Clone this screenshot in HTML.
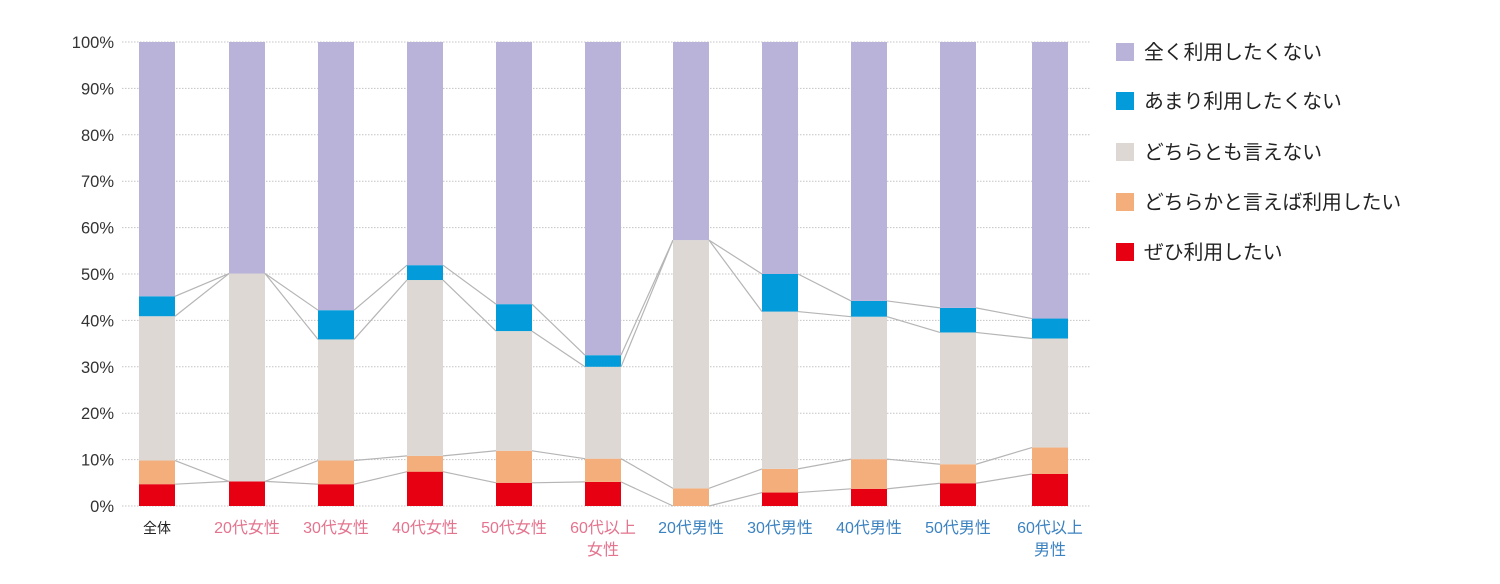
<!DOCTYPE html>
<html><head><meta charset="utf-8"><style>
html,body{margin:0;padding:0;background:#fff;width:1500px;height:584px;overflow:hidden}
text{font-family:"Liberation Sans","Noto Sans CJK JP",sans-serif}
</style></head><body>
<svg id="s" width="1500" height="584" xmlns="http://www.w3.org/2000/svg"></svg>
<script>
var s=document.getElementById('s'),h='';
var y0=506,sc=4.64;function Y(p){return y0-p*sc;}
for(var i=0;i<=10;i++){var y=Y(i*10);
h+='<line x1="122" x2="1090" y1="'+y+'" y2="'+y+'" stroke="#c4c4c4" stroke-width="1" stroke-dasharray="1.5,1.5"/>';
h+='<text x="114" y="'+(y+6)+'" text-anchor="end" font-size="16.5" fill="#333">'+(i*10)+'%</text>';}
var cx=[157,247,336,425,514,603,691,780,869,958,1050];
var d=[[4.7,9.8,40.9,45.2],[5.3,5.3,50.1,50.1],[4.7,9.8,35.9,42.2],[7.4,10.8,48.7,51.9],[5.0,11.9,37.7,43.5],[5.2,10.2,30.0,32.5],[0,3.8,57.3,57.3],[2.9,8.0,41.9,50.0],[3.7,10.1,40.8,44.2],[4.9,9.0,37.4,42.7],[6.9,12.6,36.1,40.4]];
var col=['#e60012','#f4ae7b','#ddd8d3','#039bd9','#b9b3da'];
var w=36;
for(var b=0;b<11;b++){var prev=0,x=cx[b]-w/2;
 var tops=d[b].concat([100]);
 for(var k=0;k<5;k++){var t=tops[k];if(t>prev){h+='<rect x="'+x+'" y="'+Y(t)+'" width="'+w+'" height="'+(Y(prev)-Y(t))+'" fill="'+col[k]+'"/>';}prev=Math.max(prev,t);}
 if(b<10){for(var k=0;k<4;k++){h+='<line x1="'+(cx[b]+w/2)+'" y1="'+Y(d[b][k])+'" x2="'+(cx[b+1]-w/2)+'" y2="'+Y(d[b+1][k])+'" stroke="#b5b5b5" stroke-width="1.2"/>';}}
}
var labs=[['全体'],['20代女性'],['30代女性'],['40代女性'],['50代女性'],['60代以上','女性'],['20代男性'],['30代男性'],['40代男性'],['50代男性'],['60代以上','男性']];
for(var b=0;b<11;b++){var c=b==0?'#222':(b<6?'#e4738e':'#3b82c0');
 for(var j=0;j<labs[b].length;j++)h+='<text x="'+cx[b]+'" y="'+(533+j*22)+'" text-anchor="middle" font-size="'+(b==0?14:16)+'" fill="'+c+'">'+labs[b][j]+'</text>';}
var lg=['全く利用したくない','あまり利用したくない','どちらとも言えない','どちらかと言えば利用したい','ぜひ利用したい'];
var lc=['#b9b3da','#039bd9','#ddd8d3','#f4ae7b','#e60012'];
var ly=[52,101,152,202,252];
for(var i=0;i<5;i++){h+='<rect x="1116" y="'+(ly[i]-9)+'" width="18" height="18" fill="'+lc[i]+'"/>';
 h+='<text x="1144" y="'+(ly[i]+7)+'" font-size="19.8" fill="#222">'+lg[i]+'</text>';}
s.innerHTML=h;
</script>
</body></html>
